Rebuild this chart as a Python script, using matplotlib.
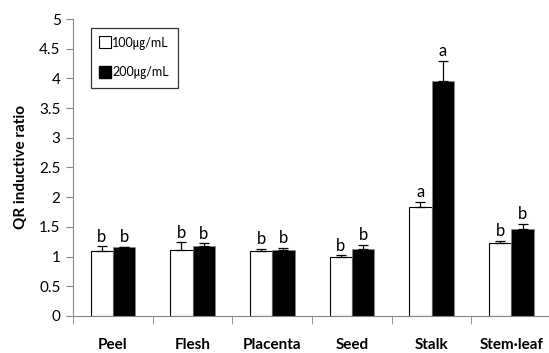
import matplotlib.pyplot as plt
import numpy as np
from matplotlib.lines import Line2D

plt.rcParams['font.family'] = ['Lato', 'Noto Sans CJK KR', 'DejaVu Sans']

categories = ['Peel', 'Flesh', 'Placenta', 'Seed', 'Stalk', 'Stem-leaf']
tick_labels = ['Peel', 'Flesh', 'Placenta', 'Seed', 'Stalk', 'Stem\u00b7leaf']
val_100 = [1.09, 1.11, 1.09, 1.00, 1.83, 1.22]
err_100 = [0.08, 0.13, 0.04, 0.02, 0.09, 0.05]
val_200 = [1.16, 1.18, 1.11, 1.13, 3.95, 1.46]
err_200 = [0.00, 0.04, 0.04, 0.07, 0.34, 0.09]
let_100 = ['b', 'b', 'b', 'b', 'a', 'b']
let_200 = ['b', 'b', 'b', 'b', 'a', 'b']

fig = plt.figure(figsize=(5.49, 3.53), dpi=100)
ax = fig.add_axes([0.133, 0.105, 0.871, 0.841])

x = np.arange(len(categories))
w = 0.28
gray = '#868686'

ax.bar(x - w / 2, val_100, w, color='white', edgecolor='black', linewidth=0.8,
       yerr=[np.zeros(6), err_100], capsize=3.5,
       error_kw=dict(elinewidth=0.9, capthick=0.9, ecolor='black'))
ax.bar(x + w / 2, val_200, w, color='black', edgecolor=gray, linewidth=0.5,
       yerr=[np.zeros(6), err_200], capsize=3.5,
       error_kw=dict(elinewidth=0.9, capthick=0.9, ecolor='black'))

for i in range(len(categories)):
    ax.text(x[i] - w / 2, val_100[i] + err_100[i] + 0.03, let_100[i],
            ha='center', va='bottom', fontsize=12)
    ax.text(x[i] + w / 2, val_200[i] + err_200[i] + 0.03, let_200[i],
            ha='center', va='bottom', fontsize=12)

ax.set_xlim(-0.5, 5.5)
ax.set_ylim(0, 5)
ax.set_yticks(np.arange(0, 5.01, 0.5))
ax.set_yticklabels(['0', '0.5', '1', '1.5', '2', '2.5', '3', '3.5', '4', '4.5', '5'])
ax.set_xticks(x)
ax.set_xticklabels(tick_labels, fontweight='bold', fontsize=11)
ax.set_xticks(np.arange(-0.5, 6, 1), minor=True)
ax.tick_params(axis='x', which='major', length=0, pad=16)
ax.tick_params(axis='x', which='minor', length=6, color=gray, direction='out')
ax.tick_params(axis='y', length=5, color=gray, direction='out', labelsize=11, pad=4)

for s in ['top', 'right']:
    ax.spines[s].set_visible(False)
for s in ['left', 'bottom']:
    ax.spines[s].set_color(gray)

ax.set_ylabel('QR inductive ratio', fontweight='bold', fontsize=11, labelpad=8)

handles = [Line2D([], [], marker='s', linestyle='none', markersize=8,
                  markerfacecolor='white', markeredgecolor='black', markeredgewidth=0.8),
           Line2D([], [], marker='s', linestyle='none', markersize=8,
                  markerfacecolor='black', markeredgecolor='black')]
leg = ax.legend(handles, ['100\u338d/mL', '200\u338d/mL'], loc='upper left',
                bbox_to_anchor=(0.038, 0.97), borderaxespad=0, frameon=True,
                fancybox=False, edgecolor='black', labelspacing=1.3,
                handlelength=0.8, handletextpad=0.2, borderpad=0.7, fontsize=9)
leg.get_frame().set_linewidth(0.9)

fig.savefig('out.png', dpi=100)
